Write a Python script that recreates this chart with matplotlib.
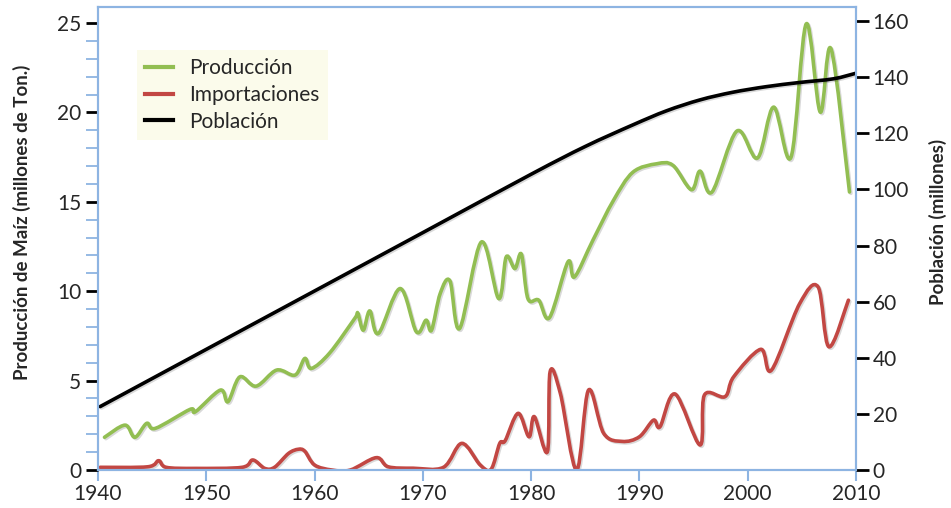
import numpy as np
import matplotlib
matplotlib.use("Agg")
import matplotlib.pyplot as plt
from matplotlib.path import Path
from matplotlib.patches import PathPatch
from matplotlib.lines import Line2D
import matplotlib.patheffects as pe

# Producción de maíz (millones de toneladas)
anios_prod = [1940.6, 1942.5, 1943.4, 1944.5, 1945.3, 1948.5, 1949.0, 1951.3, 1952.0,
              1953.1, 1954.6, 1956.5, 1958.2, 1959.1, 1959.7, 1961.4, 1963.7, 1964.0,
              1964.5, 1965.1, 1965.9, 1967.9, 1969.4, 1970.3, 1970.8, 1971.6, 1972.5,
              1973.4, 1975.4, 1977.0, 1977.7, 1978.5, 1979.1, 1979.7, 1980.7, 1981.7,
              1983.4, 1984.0, 1985.7, 1987.6, 1989.4, 1991.6, 1993.1, 1994.8, 1995.6,
              1996.7, 1999.0, 2000.9, 2002.4, 2004.0, 2005.4, 2006.7, 2007.7, 2009.4]
produccion = [1.83, 2.51, 1.83, 2.61, 2.33, 3.39, 3.26, 4.47, 3.82,
              5.21, 4.69, 5.59, 5.31, 6.24, 5.68, 6.55, 8.47, 8.75,
              7.82, 8.90, 7.64, 10.15, 7.73, 8.38, 7.82, 9.87, 10.58,
              7.92, 12.75, 9.59, 11.92, 11.27, 12.07, 9.59, 9.50, 8.53,
              11.64, 10.80, 12.85, 15.08, 16.66, 17.13, 17.04, 15.68, 16.72,
              15.55, 18.96, 17.45, 20.30, 17.50, 24.95, 20.02, 23.55, 15.55]

# Importaciones (millones de toneladas)
anios_imp = [1940.2, 1944.6, 1945.6, 1946.3, 1949.0, 1953.3, 1954.3, 1955.4, 1956.3,
             1957.6, 1958.5, 1959.1, 1960.0, 1961.6, 1963.3, 1965.7, 1966.8, 1969.1,
             1971.9, 1973.6, 1975.3, 1976.3, 1977.1, 1977.6, 1978.8, 1979.8, 1980.3,
             1981.5, 1981.75, 1982.7, 1984.2, 1985.3, 1986.7, 1988.4, 1990.0, 1991.3,
             1991.9, 1993.3, 1995.6, 1996.0, 1997.9, 1998.7, 2001.2, 2002.2, 2004.8,
             2006.5, 2007.5, 2009.3]
importaciones = [0.15, 0.18, 0.52, 0.15, 0.09, 0.15, 0.56, 0.09, 0.15,
                 0.93, 1.16, 1.05, 0.28, 0.0, 0.0, 0.69, 0.18, 0.10,
                 0.15, 1.49, 0.28, 0.04, 1.49, 1.64, 3.17, 1.86, 2.98,
                 1.02, 5.49, 4.28, 0.0, 4.47, 2.05, 1.60, 1.86, 2.79,
                 2.42, 4.25, 1.40, 4.19, 4.10, 5.21, 6.75, 5.59, 9.31,
                 10.24, 6.89, 9.50]

# Población (millones)
anios_pob = [1940.2, 1950, 1960, 1970, 1980, 1985, 1989.4, 1992.5,
             1995.6, 1998.6, 2001.7, 2004.8, 2007.9, 2010]
poblacion = [22.6, 43.0, 63.8, 84.6, 105.4, 115.3, 123.0, 128.0,
             131.9, 134.6, 136.6, 138.1, 139.4, 141.4]

VERDE = "#92BE52"
ROJO = "#C24743"
AZUL = "#8DB4E2"
GRIS = "#262626"


def curva_suave(x, y):
    # linea suavizada tipo Excel (Catmull-Rom como Bezier cubica)
    p = np.column_stack([x, y])
    verts = [p[0]]
    codes = [Path.MOVETO]
    n = len(p)
    for i in range(n - 1):
        p0 = p[i - 1] if i > 0 else p[i]
        p1, p2 = p[i], p[i + 1]
        p3 = p[i + 2] if i + 2 < n else p[i + 1]
        verts += [p1 + (p2 - p0) / 6, p2 - (p3 - p1) / 6, p2]
        codes += [Path.CURVE4] * 3
    return Path(verts, codes)


def dibujar(ax, x, y, color):
    patch = PathPatch(curva_suave(x, y), facecolor="none", edgecolor=color,
                      lw=2.6, capstyle="round", joinstyle="round")
    patch.set_path_effects([pe.SimpleLineShadow(offset=(1, -1), alpha=0.15),
                            pe.Normal()])
    ax.add_patch(patch)


plt.rcParams["font.family"] = ["Lato", "DejaVu Sans"]

fig = plt.figure(figsize=(9.51, 5.08), dpi=100)
ax = fig.add_axes([98 / 951, 38 / 508, 758 / 951, 463 / 508])
ax2 = ax.twinx()

dibujar(ax, anios_prod, produccion, VERDE)
dibujar(ax, anios_imp, importaciones, ROJO)
dibujar(ax2, anios_pob, poblacion, "black")

ax.set_xlim(1940, 2010)
ax.set_ylim(0, 25.9)
ax2.set_ylim(0, 165)

ax.set_xticks(range(1940, 2011, 10))
ax.set_yticks(range(0, 26, 5))
ax.set_yticks(range(0, 26), minor=True)
ax2.set_yticks(range(0, 161, 20))

for a in (ax, ax2):
    for s in a.spines.values():
        s.set_color(AZUL)
        s.set_linewidth(1.5)

ax.tick_params(axis="x", colors=AZUL, length=8, width=1.5, labelcolor=GRIS,
               labelsize=15, pad=2)
ax.tick_params(axis="y", which="major", color="black", length=9, width=2,
               labelcolor=GRIS, labelsize=15, pad=3)
ax.tick_params(axis="y", which="minor", color=AZUL, length=9, width=1.3)
ax2.tick_params(axis="y", color="black", length=9, width=2,
                labelcolor=GRIS, labelsize=15, pad=3)

fig.text(21.5 / 951, 1 - 222 / 508, "Producción de Maíz (millones de Ton.)",
         rotation=90, ha="center", va="center", fontsize=13.5,
         fontweight="bold", color=GRIS)
fig.text(938 / 951, 1 - 222 / 508, "Población (millones)",
         rotation=90, ha="center", va="center", fontsize=13.5,
         fontweight="bold", color=GRIS)

manejadores = [Line2D([], [], color=VERDE, lw=3),
               Line2D([], [], color=ROJO, lw=3),
               Line2D([], [], color="black", lw=3)]
leg = ax2.legend(manejadores, ["Producción", "Importaciones", "Población"],
                 loc="upper left", bbox_to_anchor=(0.0515, 0.907),
                 borderaxespad=0, fontsize=15, frameon=True, fancybox=False,
                 handlelength=1.35, handletextpad=0.77, labelspacing=0.32,
                 borderpad=0.4)
leg.get_frame().set_facecolor("#FBFBE6")
leg.get_frame().set_edgecolor("none")
for t in leg.get_texts():
    t.set_color(GRIS)

fig.savefig("out.png", dpi=100)
